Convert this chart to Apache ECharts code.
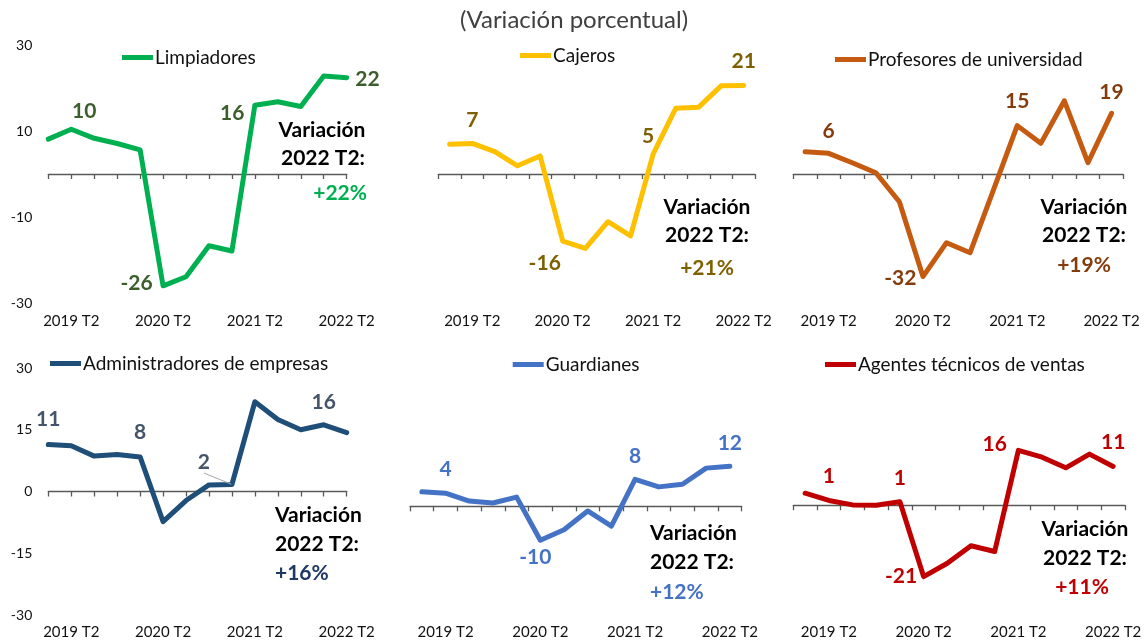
<!DOCTYPE html>
<html>
<head>
<meta charset="utf-8">
<script src="https://cdn.jsdelivr.net/npm/echarts@6/dist/echarts.min.js"></script>
<style>
html, body { margin: 0; padding: 0; background: #fff; }
#chart { width: 1148px; height: 643px; }
</style>
</head>
<body>
<div id="chart"></div>
<script>
// datos: variación porcentual interanual por ocupación
var trimestres = ['2019 T1', '2019 T2', '2019 T3', '2019 T4', '2020 T1', '2020 T2', '2020 T3',
                  '2020 T4', '2021 T1', '2021 T2', '2021 T3', '2021 T4', '2022 T1', '2022 T2'];
var limpiadores     = [8.1, 10.4, 8.3, 7.1, 5.6, -26.0, -23.9, -16.7, -17.9, 16.0, 16.8, 15.7, 22.8, 22.4];
var cajeros         = [6.9, 7.1, 5.2, 1.9, 4.2, -15.6, -17.3, -11.1, -14.4, 4.7, 15.3, 15.5, 20.5, 20.6];
var profesores      = [6.9, 6.4, 3.5, 0.4, -8.6, -31.8, -21.3, -24.4, -4.8, 15.0, 9.5, 22.7, 3.5, 18.8];
var administradores = [11.4, 11.1, 8.6, 9.0, 8.4, -7.3, -2.2, 1.6, 1.7, 21.8, 17.5, 15.0, 16.2, 14.3];
var guardianes      = [4.4, 4.0, 1.6, 1.0, 2.8, -10.3, -7.1, -1.4, -6.0, 8.2, 5.9, 6.7, 11.6, 12.2];
var agentes         = [3.5, 1.4, 0.1, 0.0, 1.0, -20.8, -16.9, -11.8, -13.5, 16.0, 14.0, 10.9, 14.9, 11.3];

var ocupaciones = ['Limpiadores', 'Cajeros', 'Profesores de universidad',
                   'Administradores de empresas', 'Guardianes', 'Agentes técnicos de ventas'];
var variacion2022 = ['+22%', '+21%', '+19%', '+16%', '+12%', '+11%'];
// puntos que llevan etiqueta
var puntosEtiqueta = [[1, 5, 9, 13], [1, 5, 9, 13], [1, 5, 9, 13], [0, 4, 8, 12], [1, 5, 9, 13], [1, 4, 5, 9, 13]];
var ejeArriba = [-30, 30, 20];   // min, max, intervalo
var ejeAbajo = [-30, 30, 15];

var series_datos = [limpiadores, cajeros, profesores, administradores, guardianes, agentes];

var FONT = 'Lato';
var chart = echarts.init(document.getElementById('chart'));

// layout y estilo de cada panel
var paneles = [
    { color: '#00b050', lbl: '#3b5e2b', pct: '#00b050', grid: [48.3, 45, 298.4, 258], gap: false,
      range: ejeArriba, yLabels: true, leg: [122, 48],
      pos: { 1: ['top', 7, [13, 0]], 5: ['left', 10, [0, -3]], 9: ['left', 10, [0, 8]], 13: ['right', 8, [0, 2]] },
      txt: [[322, 130, 'center'], [323, 158, 'center'], [367, 193, 'right']] },
    { color: '#ffc000', lbl: '#7f6000', pct: '#7f6000', grid: [438.3, 45, 316.7, 258], gap: true,
      range: ejeArriba, yLabels: false, leg: [520, 46],
      pos: { 1: ['top', 12, [0, 0]], 5: ['bottom', 11, [-18, 0]], 9: ['top', 7, [-5, 0]], 13: ['top', 13, [0, 0]] },
      txt: [[707, 207, 'center'], [707, 235, 'center'], [707, 268, 'center']] },
    { color: '#c55a11', lbl: '#843c0c', pct: '#843c0c', grid: [793.3, 45, 330, 258], gap: true,
      range: [-40, 40, 20], yLabels: false, leg: [835, 50],
      pos: { 1: ['top', 11, [0, 0]], 5: ['left', 6, [0, 2]], 9: ['top', 13, [0, 0]], 13: ['top', 10, [0, 0]] },
      txt: [[1084, 207, 'center'], [1084, 235, 'center'], [1084, 265, 'center']] },
    { color: '#1f4e79', lbl: '#44546a', pct: '#1f3864', grid: [48.3, 368, 298.4, 247], gap: false,
      range: ejeAbajo, yLabels: true, leg: [50, 354],
      pos: { 0: ['top', 14, [0, 0]], 4: ['top', 14, [0, 0]], 8: ['top', 5, [0, 0]], 12: ['top', 12, [0, 0]] },
      txt: [[275, 515, 'left'], [275, 544, 'left'], [275, 573, 'left']] },
    { color: '#4472c4', lbl: '#4472c4', pct: '#4472c4', grid: [410, 368, 331.7, 247], gap: true,
      range: [-33, 42, 15], yLabels: false, leg: [512.7, 355],
      pos: { 1: ['top', 13, [0, 0]], 5: ['bottom', 6, [-5, 0]], 9: ['top', 12, [0, 0]], 13: ['top', 12, [0, 0]] },
      txt: [[650, 533, 'left'], [650, 562, 'left'], [650, 592, 'left']] },
    { color: '#c00000', lbl: '#c00000', pct: '#c00000', grid: [793.3, 368, 331.7, 247], gap: true,
      range: [-32, 40, 8], yLabels: false, leg: [825, 355],
      pos: { 1: ['top', 13, [0, 0]], 4: ['top', 13, [0, 0]], 5: ['left', 6, [0, 0]], 9: ['left', 11, [0, -6]], 13: ['top', 13, [0, 0]] },
      txt: [[1085, 529, 'center'], [1085, 558, 'center'], [1082, 587, 'center']] }
];

var grids = [], xAxes = [], yAxes = [], series = [], legends = [], graphics = [];

paneles.forEach(function (p, i) {
    grids.push({ left: p.grid[0], top: p.grid[1], width: p.grid[2], height: p.grid[3] });

    // eje con línea en el cero (sin etiquetas)
    xAxes.push({
        type: 'category', gridIndex: i, data: trimestres, boundaryGap: p.gap,
        axisLine: { onZero: true, lineStyle: { color: '#595959', width: 1.3 } },
        axisTick: { show: true, interval: 0, length: 5, lineStyle: { color: '#595959', width: 1.3 } },
        axisLabel: { show: false }, splitLine: { show: false }
    });
    // etiquetas abajo
    xAxes.push({
        type: 'category', gridIndex: i, data: trimestres, boundaryGap: p.gap, position: 'bottom',
        axisLine: { show: false, onZero: false }, axisTick: { show: false },
        axisLabel: {
            margin: i < 3 ? 11 : 10, fontFamily: FONT, fontSize: 15, color: '#111',
            interval: function (idx, val) { return /T2$/.test(val); }
        },
        splitLine: { show: false }
    });
    yAxes.push({
        type: 'value', gridIndex: i, min: p.range[0], max: p.range[1], interval: p.range[2],
        axisLine: { show: false }, axisTick: { show: false }, splitLine: { show: false },
        axisLabel: { show: p.yLabels, margin: 16, fontFamily: FONT, fontSize: 14, color: '#111' }
    });

    var valores = series_datos[i];
    var data = valores.map(function (v, k) {
        if (puntosEtiqueta[i].indexOf(k) < 0) return v;
        var ps = p.pos[k];
        var item = { value: v, label: { show: true, position: ps[0], distance: ps[1], offset: ps[2] } };
        if (i === 3 && k === 8) {
            item.labelLine = { show: true, lineStyle: { color: '#a6a6a6', width: 1 } };
        }
        return item;
    });

    series.push({
        name: ocupaciones[i], type: 'line', xAxisIndex: i * 2, yAxisIndex: i,
        data: data, symbol: 'circle', symbolSize: 1, showSymbol: true, showAllSymbol: true,
        smooth: false, silent: true,
        lineStyle: { color: p.color, width: 5, join: 'round', cap: 'round' },
        itemStyle: { color: p.color },
        label: {
            show: false, fontFamily: FONT, fontWeight: 'bold', fontSize: 21, color: p.lbl,
            formatter: function (prm) { return Math.round(prm.value); }
        },
        labelLine: { show: false },
        labelLayout: i === 3 ? function (prm) {
            if (prm.dataIndex === 8) return { dx: -28, dy: -6 };
        } : null
    });

    legends.push({
        data: [ocupaciones[i]], left: p.leg[0], top: p.leg[1], icon: 'rect', padding: 0,
        itemWidth: 31, itemHeight: 5, itemGap: 0, selectedMode: false,
        textStyle: { fontFamily: FONT, fontSize: 19, color: '#111', padding: [0, 0, 0, -3] }
    });

    var t = p.txt;
    graphics.push({
        type: 'text', x: t[0][0], y: t[0][1],
        style: { text: 'Variación', font: 'bold 21px ' + FONT, fill: '#000', align: t[0][2], verticalAlign: 'middle' }
    });
    graphics.push({
        type: 'text', x: t[1][0], y: t[1][1],
        style: { text: '2022 T2:', font: 'bold 21px ' + FONT, fill: '#000', align: t[1][2], verticalAlign: 'middle' }
    });
    graphics.push({
        type: 'text', x: t[2][0], y: t[2][1],
        style: { text: variacion2022[i], font: 'bold 21px ' + FONT, fill: p.pct, align: t[2][2], verticalAlign: 'middle' }
    });
});

chart.setOption({
    backgroundColor: '#fff',
    animation: false,
    title: {
        text: '(Variación porcentual)', left: 'center', top: 3,
        textStyle: { fontFamily: FONT, fontSize: 24, fontWeight: 'normal', color: '#404040' }
    },
    legend: legends,
    grid: grids,
    xAxis: xAxes,
    yAxis: yAxes,
    series: series,
    graphic: graphics
});
</script>
</body>
</html>
